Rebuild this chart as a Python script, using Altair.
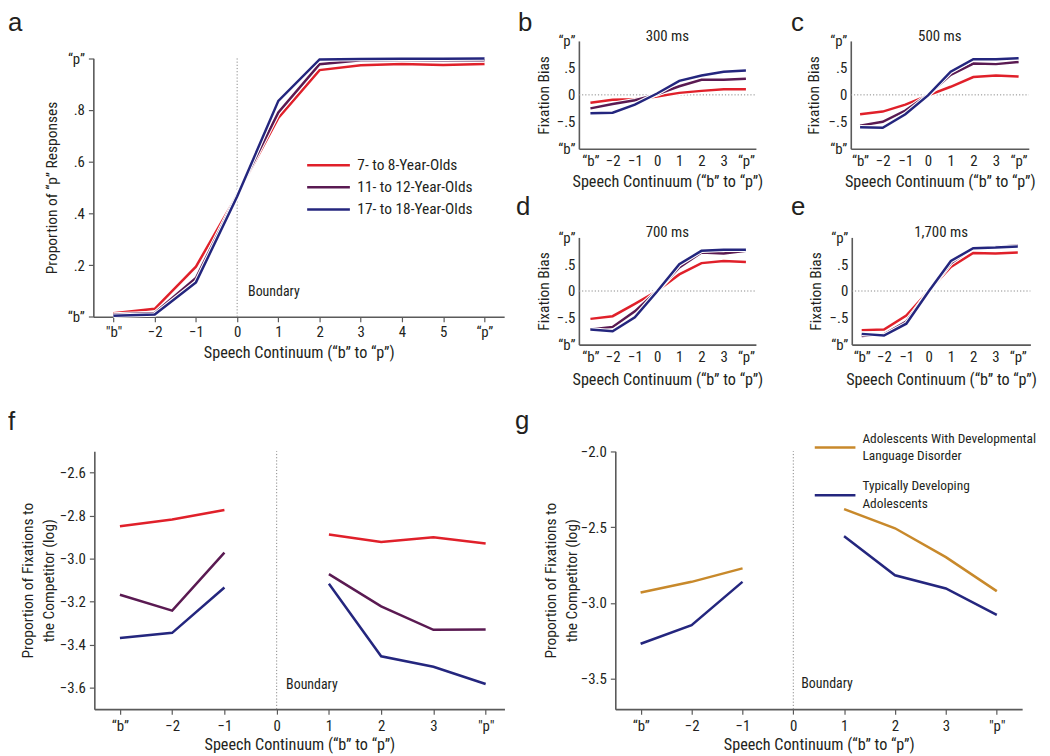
import altair as alt
import pandas as pd

# ---------------- canvas ----------------
W, H = 1042, 748
OX, OY = 8, 8
FONT = "Roboto Condensed, Liberation Sans Narrow, DejaVu Sans Condensed, sans-serif"
LETTER_FONT = "Liberation Sans, Arial, sans-serif"
INK = "#231f20"
AXIS_COL = "#5a5a5a"
TICK_FS = 15
XTITLE_FS = 16.3
YTITLE_FS = 15.6
LEG_A_FS = 15.5
LEG_G_FS = 13.5
TEXT_FS = 14
PANEL_TITLE_FS = 15

# ---------------- data ----------------
GROUPS = ["7- to 8-Year-Olds", "11- to 12-Year-Olds", "17- to 18-Year-Olds"]
COLORS = ["#e0202a", "#5a1a52", "#24267e"]
DLD_GROUPS = ["Adolescents With Developmental Language Disorder",
              "Typically Developing Adolescents"]
DLD_COLORS = ["#c8892b", "#24267e"]

# panel a: identification
steps_a = [-3, -2, -1, 0, 1, 2, 3, 4, 5, 6]
a_7_8 = [0.014, 0.031, 0.194, 0.472, 0.769, 0.954, 0.973, 0.978, 0.974, 0.978]
a_11_12 = [0.009, 0.015, 0.150, 0.472, 0.790, 0.977, 0.992, 0.993, 0.992, 0.992]
a_17_18 = [0.004, 0.009, 0.133, 0.465, 0.835, 0.995, 0.997, 0.998, 0.998, 0.999]

# panels b-e: fixation bias
steps_fix = [-3, -2, -1, 0, 1, 2, 3, 4]
b_7_8 = [-0.147, -0.092, -0.080, -0.030, 0.037, 0.074, 0.104, 0.104]
b_11_12 = [-0.250, -0.170, -0.100, 0.010, 0.160, 0.280, 0.280, 0.300]
b_17_18 = [-0.340, -0.330, -0.180, 0.025, 0.260, 0.360, 0.430, 0.450]

c_7_8 = [-0.360, -0.310, -0.180, -0.010, 0.150, 0.330, 0.360, 0.340]
c_11_12 = [-0.570, -0.500, -0.290, 0.000, 0.370, 0.580, 0.570, 0.610]
c_17_18 = [-0.600, -0.610, -0.360, -0.010, 0.430, 0.660, 0.660, 0.680]

d_7_8 = [-0.520, -0.470, -0.240, 0.000, 0.310, 0.520, 0.560, 0.540]
d_11_12 = [-0.720, -0.670, -0.380, 0.000, 0.440, 0.720, 0.700, 0.750]
d_17_18 = [-0.720, -0.750, -0.490, -0.010, 0.500, 0.750, 0.770, 0.770]

e_7_8 = [-0.730, -0.720, -0.460, 0.000, 0.450, 0.710, 0.700, 0.720]
e_11_12 = [-0.840, -0.810, -0.570, -0.010, 0.520, 0.810, 0.820, 0.850]
e_17_18 = [-0.800, -0.830, -0.610, -0.010, 0.560, 0.800, 0.810, 0.830]

# panels f-g: competitor fixations (log)
steps_comp = [-3, -2, -1, 1, 2, 3, 4]
seg_comp = ["before", "before", "before", "after", "after", "after", "after"]
f_7_8 = [-2.849, -2.818, -2.774, -2.888, -2.922, -2.900, -2.929]
f_11_12 = [-3.168, -3.242, -2.972, -3.072, -3.222, -3.331, -3.329]
f_17_18 = [-3.369, -3.345, -3.134, -3.117, -3.454, -3.503, -3.583]
g_dld = [-2.931, -2.861, -2.772, -2.382, -2.508, -2.698, -2.922]
g_td = [-3.269, -3.147, -2.861, -2.560, -2.818, -2.905, -3.079]

# ---------------- panel geometry (page px) ----------------
P = {
    "a": dict(x0=94, x1=508, y0=55.7, y1=316.3, xd=[-3.49, 6.48], yd=[0, 1], ytx=52, xty=352.3),
    "b": dict(x0=583.3, x1=761.7, y0=38.3, y1=147, xd=[-3.52, 4.45], yd=[-1, 1], ytx=547.5, xty=180),
    "c": dict(x0=857.3, x1=1036.7, y0=38.3, y1=147, xd=[-3.41, 4.45], yd=[-1, 1], ytx=820, xty=180),
    "d": dict(x0=583.3, x1=761.7, y0=236.3, y1=344.3, xd=[-3.52, 4.45], yd=[-1, 1], ytx=547.5, xty=379.3),
    "e": dict(x0=858.3, x1=1038.3, y0=236.3, y1=344.3, xd=[-3.445, 4.565], yd=[-1, 1], ytx=821.5, xty=379.3),
    "f": dict(x0=95, x1=508.3, y0=451.7, y1=711.7, xd=[-3.49, 4.36], yd=[-3.7, -2.5], ytx=27.5, xty=747),
    "g": dict(x0=620, x1=1030, y0=451.7, y1=711.7, xd=[-3.5, 4.5], yd=[-3.7, -2.0], ytx=554.5, xty=747),
}


def sx(p):
    return alt.Scale(domain=p["xd"], range=[p["x0"] - OX, p["x1"] - OX], nice=False, zero=False)


def sy(p):
    return alt.Scale(domain=p["yd"], range=[p["y1"] - OY, p["y0"] - OY], nice=False, zero=False)


MINUS = "\u2212"
QL, QR = "\u201c", "\u201d"
XTITLE = f"Speech Continuum ({QL}b{QR} to {QL}p{QR})"


def x_expr(first, last, maxv):
    return (f"datum.value == -3 ? '{first}' : datum.value == {maxv} ? '{last}' : "
            f"replace(format(datum.value, 'd'), '-', '{MINUS}')")


def xaxis(p, values, expr, ticks, label_pad):
    return alt.Axis(orient="bottom", offset=(p["y1"] - OY) - H, values=values, labelExpr=expr,
                    title=XTITLE, ticks=ticks, tickSize=5 if ticks else 0,
                    labelPadding=label_pad, titleY=p["xty"] - p["y1"], titleBaseline="middle",
                    titleFontSize=XTITLE_FS,
                    labelOverlap=False, labelFlush=False, grid=False)


def yaxis(p, values, expr, title, ticks, label_pad):
    return alt.Axis(orient="left", offset=-(p["x0"] - OX), values=values, labelExpr=expr,
                    title=title, ticks=ticks, tickSize=5 if ticks else 0,
                    labelPadding=label_pad, titleX=p["ytx"] - p["x0"], titleBaseline="middle",
                    titleLineHeight=21, titleFontSize=YTITLE_FS,
                    labelOverlap=False, labelFlush=False, grid=False)


layers = []


def series_layers(p, steps, series, segs=None):
    for name, vals, color in series:
        df = pd.DataFrame({"step": steps, "value": vals,
                           "seg": segs if segs else ["all"] * len(steps)})
        for col, sw in (("white", 4.6), (color, 2.5)):
            layers.append(
                alt.Chart(df).mark_line(color=col, strokeWidth=sw).encode(
                    x=alt.X("step:Q", scale=sx(p), axis=None),
                    y=alt.Y("value:Q", scale=sy(p), axis=None),
                    detail="seg:N",
                )
            )


def legend_layer(p, steps, series, domain, rng, legend, segs=None):
    rows = []
    for name, vals, color in series:
        for i, (s, v) in enumerate(zip(steps, vals)):
            rows.append({"step": s, "value": v, "group": name,
                         "seg": segs[i] if segs else "all"})
    df = pd.DataFrame(rows)
    layers.append(
        alt.Chart(df).mark_line(strokeWidth=2.5).encode(
            x=alt.X("step:Q", scale=sx(p), axis=None),
            y=alt.Y("value:Q", scale=sy(p), axis=None),
            color=alt.Color("group:N", scale=alt.Scale(domain=domain, range=rng), legend=legend),
            detail="seg:N",
        )
    )


def vrule(p, xax, yax):
    df = pd.DataFrame({"zero": [0], "lo": [p["yd"][0]], "hi": [p["yd"][1]]})
    layers.append(
        alt.Chart(df).mark_rule(color="#8a8a8a", strokeWidth=1, strokeDash=[1.2, 2]).encode(
            x=alt.X("zero:Q", scale=sx(p), axis=xax),
            y=alt.Y("lo:Q", scale=sy(p), axis=yax),
            y2="hi:Q",
        )
    )


def hrule(p, xax, yax):
    df = pd.DataFrame({"zero": [0], "lo": [p["xd"][0]], "hi": [p["xd"][1]]})
    layers.append(
        alt.Chart(df).mark_rule(color="#8a8a8a", strokeWidth=1, strokeDash=[1.2, 2]).encode(
            x=alt.X("lo:Q", scale=sx(p), axis=xax),
            x2="hi:Q",
            y=alt.Y("zero:Q", scale=sy(p), axis=yax),
        )
    )


def boundary(p, yv, dx):
    df = pd.DataFrame({"zero": [0], "yv": [yv], "label": ["Boundary"]})
    layers.append(
        alt.Chart(df).mark_text(align="left", baseline="middle", dx=dx, font=FONT,
                                fontSize=TEXT_FS, color=INK).encode(
            x=alt.X("zero:Q", scale=sx(p), axis=None),
            y=alt.Y("yv:Q", scale=sy(p), axis=None),
            text="label:N",
        )
    )


def label(text, x, y, font, size, align="left", baseline="alphabetic"):
    df = pd.DataFrame({"t": [text]})
    layers.append(
        alt.Chart(df).mark_text(align=align, baseline=baseline, font=font, fontSize=size,
                                color=INK).encode(
            x=alt.value(x), y=alt.value(y), text="t:N")
    )


# ---------------- panel a ----------------
pa = P["a"]
a_series = list(zip(GROUPS, [a_7_8, a_11_12, a_17_18], COLORS))
vrule(pa,
      xaxis(pa, steps_a, x_expr('"b"', f"{QL}p{QR}", 6), True, 3),
      yaxis(pa, [0, 0.2, 0.4, 0.6, 0.8, 1],
            f"datum.value == 0 ? '{QL}b{QR}' : datum.value == 1 ? '{QL}p{QR}' : "
            "replace(format(datum.value, '.1f'), '0.', '.')",
            f"Proportion of {QL}p{QR} Responses", True, 4))
legend_layer(pa, steps_a, a_series, GROUPS, COLORS,
             alt.Legend(orient="none", legendX=311, legendY=143.5, title=None,
                        symbolType="M-2.05,0H2.05", symbolSize=441, symbolStrokeWidth=2.5,
                        labelOffset=17, rowPadding=1.3, padding=0, labelLimit=400,
                        labelFont=FONT, labelFontSize=LEG_A_FS, labelColor=INK))
series_layers(pa, steps_a, a_series)
boundary(pa, 0.094, 11)

# ---------------- panels b-e ----------------
fix_y_expr = (f"datum.value == -1 ? '{QL}b{QR}' : datum.value == 1 ? '{QL}p{QR}' : "
              "datum.value == 0 ? '0' : replace(format(datum.value, '.1f'), '0.', '.')")
fix_panels = [
    ("b", "300 ms", [b_7_8, b_11_12, b_17_18]),
    ("c", "500 ms", [c_7_8, c_11_12, c_17_18]),
    ("d", "700 ms", [d_7_8, d_11_12, d_17_18]),
    ("e", "1,700 ms", [e_7_8, e_11_12, e_17_18]),
]
for key, ttl, vals in fix_panels:
    p = P[key]
    hrule(p,
          xaxis(p, steps_fix, x_expr(f"{QL}b{QR}", f"{QL}p{QR}", 4), False, 5),
          yaxis(p, [-1, -0.5, 0, 0.5, 1], fix_y_expr, "Fixation Bias", False, 4))
    series_layers(p, steps_fix, list(zip(GROUPS, vals, COLORS)))
    label(ttl, (p["x0"] + p["x1"]) / 2 - OX, p["y0"] - 5 - OY, FONT, PANEL_TITLE_FS,
          align="center", baseline="middle")

# ---------------- panel f ----------------
pf = P["f"]
comp_title = ["Proportion of Fixations to", "the Competitor (log)"]
vrule(pf,
      xaxis(pf, steps_fix, x_expr(f"{QL}b{QR}", '"p"', 4), True, 5),
      yaxis(pf, [-3.6, -3.4, -3.2, -3.0, -2.8, -2.6],
            f"replace(format(datum.value, '.1f'), '-', '{MINUS}')", comp_title, True, 4))
series_layers(pf, steps_comp, list(zip(GROUPS, [f_7_8, f_11_12, f_17_18], COLORS)), seg_comp)
boundary(pf, -3.588, 9.5)

# ---------------- panel g ----------------
pg = P["g"]
g_series = list(zip(DLD_GROUPS, [g_dld, g_td], DLD_COLORS))
vrule(pg,
      xaxis(pg, steps_fix, x_expr(f"{QL}b{QR}", '"p"', 4), True, 5),
      yaxis(pg, [-3.5, -3.0, -2.5, -2.0],
            f"replace(format(datum.value, '.1f'), '-', '{MINUS}')", comp_title, True, 4))
legend_layer(pg, steps_comp, g_series, DLD_GROUPS, DLD_COLORS,
             alt.Legend(orient="none", legendX=822, legendY=419.5, title=None,
                        symbolType="M-2,0.87H2", symbolSize=420, symbolStrokeWidth=2.5,
                        labelOffset=16, rowPadding=12.2, padding=0, labelLimit=400,
                        labelFont=FONT, labelFontSize=LEG_G_FS, labelColor=INK,
                        labelExpr=("datum.label == 'Typically Developing Adolescents' ? "
                                   "['Typically Developing', 'Adolescents'] : "
                                   "['Adolescents With Developmental', 'Language Disorder']")),
             seg_comp)
series_layers(pg, steps_comp, g_series, seg_comp)
boundary(pg, -3.537, 8)

# ---------------- panel letters ----------------
for txt, x, y in [("a", 0, 20.5), ("b", 514, 20.5), ("c", 789, 20.5), ("d", 512, 206),
                  ("e", 789, 206), ("f", 0, 422), ("g", 511, 421)]:
    label(txt, x, y, LETTER_FONT, 26)

chart = (
    alt.layer(*layers)
    .resolve_scale(x="independent", y="independent", color="independent")
    .resolve_axis(x="independent", y="independent")
    .resolve_legend(color="independent")
    .properties(width=W, height=H, padding=0, autosize=alt.AutoSizeParams(type="none"))
    .configure(style={"guide-label": {"lineHeight": 17.7}})
    .configure_view(stroke=None)
    .configure_axis(labelFont=FONT, labelFontSize=TICK_FS, labelColor=INK,
                    titleFont=FONT, titleFontWeight="normal", titleColor=INK,
                    domainColor=AXIS_COL, domainWidth=1.6, tickColor=AXIS_COL, tickWidth=1.2)
    .configure_legend(labelFont=FONT, labelColor=INK)
)

chart.save("out.html", embed_options={"renderer": "svg", "actions": False})
